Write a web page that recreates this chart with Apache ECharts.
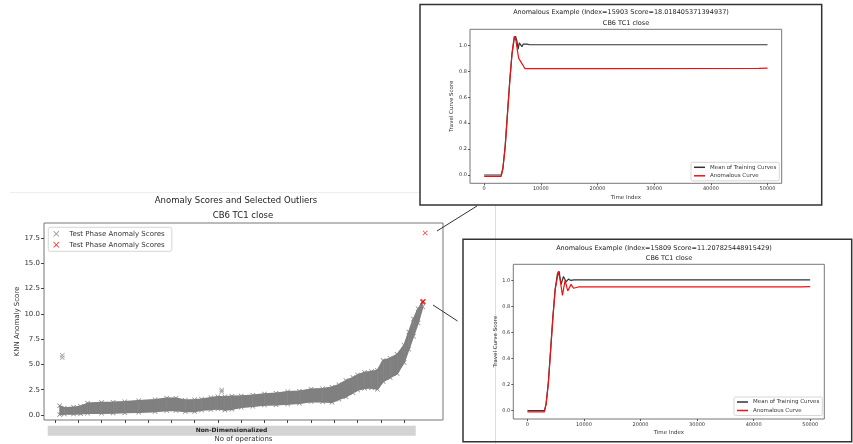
<!DOCTYPE html>
<html>
<head>
<meta charset="utf-8">
<script src="https://cdn.jsdelivr.net/npm/echarts@6/dist/echarts.min.js"></script>
<style>
  html, body { margin: 0; padding: 0; background: #fff; }
  #chart { width: 853px; height: 444px; }
</style>
</head>
<body>
<div id="chart"></div>
<script>
const bandIndex = [200, 400, 800, 1100, 1400, 2000, 2500, 3000, 3600, 4300, 4800, 5200, 5600, 6000, 6300, 6700, 7000, 7300, 7600, 8000, 8500, 9000, 9500, 10000, 10500, 11000, 11500, 11900, 12200, 12500, 12800, 13000, 13300, 13600, 13850, 14100, 14400, 14700, 15000, 15200, 15400, 15600, 15800];
const bandLow = [0.05, 0.1, 0.1, 0.12, 0.17, 0.17, 0.2, 0.23, 0.26, 0.33, 0.43, 0.43, 0.35, 0.35, 0.5, 0.55, 0.62, 0.5, 0.56, 0.76, 0.85, 0.99, 1.0, 1.09, 1.15, 1.32, 1.3, 1.25, 1.55, 1.8, 2.2, 2.47, 2.64, 2.7, 2.54, 3.3, 3.7, 4.1, 5.2, 6.5, 7.8, 9.1, 10.7];
const bandHigh = [0.9, 0.7, 0.75, 0.85, 1.15, 1.22, 1.25, 1.3, 1.4, 1.5, 1.65, 1.65, 1.45, 1.5, 1.55, 1.7, 1.8, 1.8, 1.85, 1.88, 1.95, 2.07, 2.15, 2.3, 2.35, 2.54, 2.6, 2.75, 3.0, 3.4, 3.7, 3.95, 4.2, 4.3, 4.4, 5.4, 5.6, 6.0, 6.9, 8.2, 9.5, 10.5, 11.2];
const grayOutliers = [[315, 5.9], [315, 5.66], [7163, 2.47], [7163, 2.3]];
const redOutliers = [[15903, 18.02], [15790, 11.15], [15809, 11.21], [15830, 11.26]];
const opTicks = [0, 1000, 2000, 3000, 4000, 5000, 6000, 7000, 8000, 9000, 10000, 11000, 12000, 13000, 14000, 15000];
const scoreTicks = [0, 2.5, 5, 7.5, 10, 12.5, 15, 17.5];

// insets: travel curves
const timeTicks = [0, 10000, 20000, 30000, 40000, 50000];
const curveTicks = [0, 0.2, 0.4, 0.6, 0.8, 1.0];

const topMeanX = [0, 3000, 3300, 3700, 4100, 4500, 4900, 5300, 5550, 5800, 6000, 6200, 6400, 6650, 6900, 7200, 7600, 8000, 12000, 50000];
const topMeanY = [0, 0, 0.05, 0.22, 0.47, 0.72, 0.93, 1.05, 1.07, 1.03, 0.97, 1.02, 1.03, 0.99, 1.01, 1.0, 1.01, 1.005, 1.005, 1.005];
const topAnomX = [0, 3000, 3300, 3700, 4100, 4500, 4900, 5300, 5600, 5900, 6100, 6400, 6800, 7200, 7600, 20000, 48500, 50000];
const topAnomY = [-0.01, -0.01, 0.05, 0.21, 0.46, 0.71, 0.93, 1.07, 1.04, 0.95, 0.9, 0.89, 0.85, 0.82, 0.82, 0.82, 0.822, 0.825];

const botMeanX = [0, 3000, 3300, 3700, 4100, 4500, 4900, 5300, 5600, 5950, 6370, 6840, 7250, 7700, 8200, 12000, 50000];
const botMeanY = [0, 0, 0.05, 0.22, 0.47, 0.72, 0.93, 1.05, 1.07, 0.97, 1.03, 0.99, 1.01, 1.0, 1.005, 1.005, 1.005];
const botAnomX = [0, 3000, 3300, 3700, 4100, 4500, 4900, 5480, 5800, 6190, 6660, 7130, 7720, 8140, 9000, 48500, 50000];
const botAnomY = [-0.01, -0.01, 0.05, 0.21, 0.46, 0.71, 0.93, 1.07, 1.0, 0.885, 1.0, 0.92, 0.97, 0.94, 0.95, 0.95, 0.952];

const FONT = 'DejaVu Sans';
const xPath = 'path://M0,1L1,0L5,4L9,0L10,1L6,5L10,9L9,10L5,6L1,10L0,9L4,5Z';

function pairs(xs, ys) {
  return xs.map((x, i) => [x, ys[i]]);
}

function insetX(gridIndex, min, max) {
  return {
    type: 'value', gridIndex: gridIndex, min: min, max: max,
    name: 'Time Index', nameLocation: 'middle', nameGap: 11,
    nameTextStyle: { fontFamily: FONT, fontSize: 5.5, color: '#333' },
    axisLine: { show: false, onZero: false },
    axisTick: { show: true, length: 2, customValues: timeTicks, lineStyle: { color: '#555' } },
    axisLabel: { customValues: timeTicks, fontFamily: FONT, fontSize: 5, color: '#333', margin: 3, formatter: (v) => String(v) },
    splitLine: { show: false }
  };
}

function insetY(gridIndex) {
  return {
    type: 'value', gridIndex: gridIndex, min: -0.064, max: 1.124,
    name: 'Travel Curve Score', nameLocation: 'middle', nameGap: 15,
    nameTextStyle: { fontFamily: FONT, fontSize: 5.5, color: '#333' },
    axisLine: { show: false, onZero: false },
    axisTick: { show: true, length: 2, customValues: curveTicks, lineStyle: { color: '#555' } },
    axisLabel: { customValues: curveTicks, fontFamily: FONT, fontSize: 5, color: '#333', margin: 3, formatter: (v) => v.toFixed(1) },
    splitLine: { show: false }
  };
}

function insetLegend(left, top) {
  return {
    left: left, top: top, orient: 'vertical',
    data: ['Mean of Training Curves', 'Anomalous Curve'],
    icon: 'rect', itemWidth: 11, itemHeight: 1.5, itemGap: 2.5,
    padding: [2, 3, 2, 3], borderColor: '#ccc', borderWidth: 0.8, borderRadius: 1.5,
    backgroundColor: '#fff',
    textStyle: { fontFamily: FONT, fontSize: 5.5, color: '#333' },
    selectedMode: false
  };
}

function titleAt(text, x, y, size) {
  return {
    text: text, left: x, top: y, textAlign: 'center', padding: 0,
    textStyle: { fontFamily: FONT, fontSize: size, fontWeight: 'normal', color: '#222' }
  };
}

const chart = echarts.init(document.getElementById('chart'));

const option = {
  backgroundColor: '#fff',
  animation: false,
  title: [
    titleAt('Anomaly Scores and Selected Outliers', 236, 196.5, 8.5),
    titleAt('CB6 TC1 close', 243, 211.5, 8.5),
    titleAt('Anomalous Example (Index=15903 Score=18.018405371394937)', 621, 9, 6.5),
    titleAt('CB6 TC1 close', 626, 20, 6.5),
    titleAt('Anomalous Example (Index=15809 Score=11.207825448915429)', 664, 244.5, 6.5),
    titleAt('CB6 TC1 close', 669, 255, 6.5)
  ],
  grid: [
    { left: 44, top: 223, width: 399, height: 197, show: true, borderColor: '#777', borderWidth: 1, outerBoundsMode: 'none' },
    { left: 470, top: 29.3, width: 311.7, height: 154, show: true, borderColor: '#777', borderWidth: 1, outerBoundsMode: 'none' },
    { left: 513.3, top: 264.3, width: 311, height: 154.7, show: true, borderColor: '#777', borderWidth: 1, outerBoundsMode: 'none' }
  ],
  xAxis: [
    {
      type: 'value', gridIndex: 0, min: -470, max: 16670,
      name: 'No of operations', nameLocation: 'middle', nameGap: 15.5,
      nameTextStyle: { fontFamily: FONT, fontSize: 7, color: '#333' },
      axisLine: { show: false, onZero: false },
      axisTick: { show: true, length: 3, customValues: opTicks, lineStyle: { color: '#444' } },
      axisLabel: { show: false, customValues: opTicks },
      splitLine: { show: false }
    },
    insetX(1, -2500, 52500),
    insetX(2, -2500, 52500)
  ],
  yAxis: [
    {
      type: 'value', gridIndex: 0, min: -0.5, max: 19,
      name: 'KNN Anomaly Score', nameLocation: 'middle', nameGap: 22,
      nameTextStyle: { fontFamily: FONT, fontSize: 7, color: '#333' },
      axisLine: { show: false, onZero: false },
      axisTick: { show: true, length: 3, customValues: scoreTicks, lineStyle: { color: '#444' } },
      axisLabel: { customValues: scoreTicks, fontFamily: FONT, fontSize: 7, color: '#333', margin: 4, formatter: (v) => v.toFixed(1) },
      splitLine: { show: false }
    },
    insetY(1),
    insetY(2)
  ],
  legend: [
    {
      left: 48.3, top: 227.3, orient: 'vertical',
      data: [
        { name: 'Test Phase Anomaly Scores', icon: xPath },
        { name: 'Test Phase Anomaly Scores ', icon: xPath }
      ],
      itemWidth: 6, itemHeight: 6, itemGap: 4,
      padding: [3, 5, 3, 5], borderColor: '#ccc', borderWidth: 0.8, borderRadius: 2,
      backgroundColor: '#fff',
      textStyle: { fontFamily: FONT, fontSize: 7, color: '#333', padding: [0, 0, 0, 5] },
      selectedMode: false
    },
    insetLegend(691, 162.3),
    insetLegend(734, 397)
  ],
  series: [
    {
      // filled band between the lower and upper edge
      name: 'band', type: 'custom', xAxisIndex: 0, yAxisIndex: 0, silent: true,
      data: bandIndex.map((x, i) => [x, bandLow[i], bandHigh[i]]),
      encode: { x: 0, y: [1, 2] },
      renderItem: function (params, api) {
        const i = params.dataIndex;
        if (i >= bandIndex.length - 1) return null;
        const pts = [
          api.coord([bandIndex[i], bandLow[i]]),
          api.coord([bandIndex[i], bandHigh[i]]),
          api.coord([bandIndex[i + 1], bandHigh[i + 1]]),
          api.coord([bandIndex[i + 1], bandLow[i + 1]])
        ];
        return { type: 'polygon', shape: { points: pts }, style: { fill: '#808080', stroke: '#808080', lineWidth: 0.6 } };
      }
    },
    {
      name: 'bandLow', type: 'line', xAxisIndex: 0, yAxisIndex: 0,
      data: pairs(bandIndex, bandLow),
      symbol: xPath, symbolSize: 5, showSymbol: true,
      itemStyle: { color: '#808080' },
      lineStyle: { color: '#808080', width: 1.5 }
    },
    {
      name: 'bandHigh', type: 'line', xAxisIndex: 0, yAxisIndex: 0,
      data: pairs(bandIndex, bandHigh),
      symbol: xPath, symbolSize: 5, showSymbol: true,
      itemStyle: { color: '#808080' },
      lineStyle: { color: '#808080', width: 1.5 }
    },
    {
      name: 'Test Phase Anomaly Scores', type: 'scatter', xAxisIndex: 0, yAxisIndex: 0,
      data: grayOutliers, symbol: xPath, symbolSize: 5,
      itemStyle: { color: '#808080' }
    },
    {
      name: 'Test Phase Anomaly Scores ', type: 'scatter', xAxisIndex: 0, yAxisIndex: 0,
      data: redOutliers, symbol: xPath, symbolSize: 5, z: 5,
      itemStyle: { color: '#ff0000' }
    },
    {
      name: 'Mean of Training Curves', type: 'line', xAxisIndex: 1, yAxisIndex: 1,
      data: pairs(topMeanX, topMeanY), showSymbol: false, symbol: 'none',
      itemStyle: { color: '#333' }, lineStyle: { color: '#333', width: 1.2 }
    },
    {
      name: 'Anomalous Curve', type: 'line', xAxisIndex: 1, yAxisIndex: 1,
      data: pairs(topAnomX, topAnomY), showSymbol: false, symbol: 'none',
      itemStyle: { color: '#ee1111' }, lineStyle: { color: '#ee1111', width: 1.2 }
    },
    {
      name: 'Mean of Training Curves', type: 'line', xAxisIndex: 2, yAxisIndex: 2,
      data: pairs(botMeanX, botMeanY), showSymbol: false, symbol: 'none',
      itemStyle: { color: '#333' }, lineStyle: { color: '#333', width: 1.2 }
    },
    {
      name: 'Anomalous Curve', type: 'line', xAxisIndex: 2, yAxisIndex: 2,
      data: pairs(botAnomX, botAnomY), showSymbol: false, symbol: 'none',
      itemStyle: { color: '#ee1111' }, lineStyle: { color: '#ee1111', width: 1.2 }
    }
  ],
  graphic: [
    // faint screenshot edges
    { type: 'line', z: -1, shape: { x1: 10, y1: 192.5, x2: 420, y2: 192.5 }, style: { stroke: '#eeeeee', lineWidth: 1 } },
    { type: 'line', z: -1, shape: { x1: 495.5, y1: 205, x2: 495.5, y2: 444 }, style: { stroke: '#dddddd', lineWidth: 1 } },
    // inset frames
    { type: 'rect', z: 100, shape: { x: 420, y: 4.5, width: 401.7, height: 200.5 }, style: { fill: null, stroke: '#333', lineWidth: 1.5 } },
    { type: 'rect', z: 100, shape: { x: 463, y: 239.3, width: 388.7, height: 202.4 }, style: { fill: null, stroke: '#333', lineWidth: 1.5 } },
    // connectors from outliers to insets
    { type: 'line', z: 100, shape: { x1: 437, y1: 231, x2: 477, y2: 206 }, style: { stroke: '#333', lineWidth: 1 } },
    { type: 'line', z: 100, shape: { x1: 433, y1: 305, x2: 457.5, y2: 321 }, style: { stroke: '#333', lineWidth: 1 } },
    // x axis banner
    { type: 'rect', shape: { x: 47.7, y: 425.7, width: 368, height: 10 }, style: { fill: '#d3d3d3' } },
    {
      type: 'text', x: 231.5, y: 430.9,
      style: { text: 'Non-Dimensionalized', fontFamily: FONT, fontSize: 6, fontWeight: 'bold', fill: '#222', align: 'center', verticalAlign: 'middle' }
    }
  ]
};

chart.setOption(option);
</script>
</body>
</html>
